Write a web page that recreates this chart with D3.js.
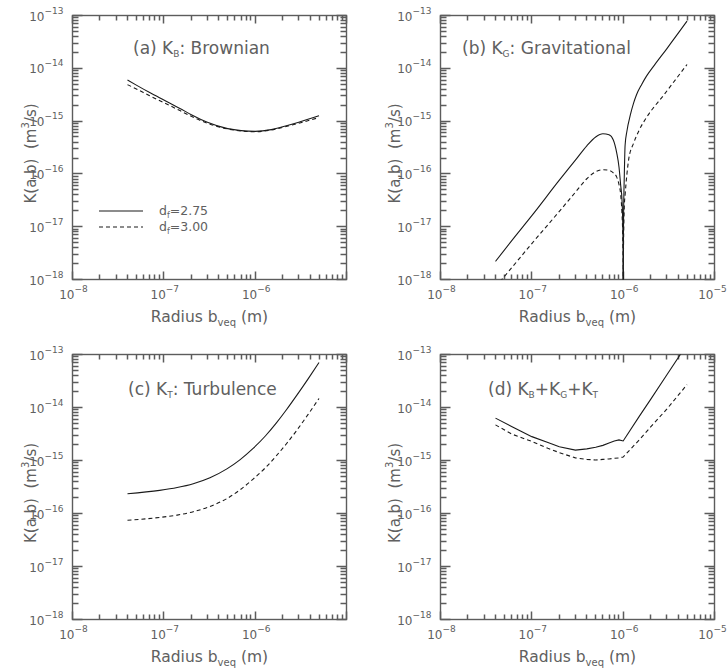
<!DOCTYPE html>
<html>
<head>
<meta charset="utf-8">
<script src="https://cdn.jsdelivr.net/npm/d3@7/dist/d3.min.js"></script>
<style>
body { margin: 0; background: #fff; }
text { font-family: "DejaVu Sans", sans-serif; fill: #606060; }
</style>
</head>
<body>
<svg id="fig" width="728" height="671"></svg>
<script>
// (a) Brownian
var brownRadius = [4e-8, 5e-8, 7e-8, 1e-7, 1.5e-7, 2e-7, 3e-7, 5e-7, 7e-7, 1e-6, 1.5e-6, 2e-6, 3e-6, 5e-6];
var brownSolid  = [6.0e-15, 4.8e-15, 3.47e-15, 2.51e-15, 1.74e-15, 1.32e-15, 9.5e-16, 7.2e-16, 6.6e-16, 6.4e-16, 6.9e-16, 7.8e-16, 9.5e-16, 1.26e-15];
var brownDashed = [4.9e-15, 4.07e-15, 3.02e-15, 2.24e-15, 1.58e-15, 1.23e-15, 9.1e-16, 7.1e-16, 6.5e-16, 6.3e-16, 6.8e-16, 7.6e-16, 9.1e-16, 1.17e-15];

// (b) Gravitational (drops to zero at b = a = 1e-6)
var gravRadiusSolid = [4e-8, 6e-8, 1e-7, 2e-7, 3e-7, 4e-7, 5e-7, 6e-7, 7e-7, 7.8e-7, 8.5e-7, 9e-7, 9.4e-7, 9.7e-7, 9.9e-7, 9.97e-7, 1e-6,
                       1.003e-6, 1.01e-6, 1.03e-6, 1.05e-6, 1.1e-6, 1.2e-6, 1.3e-6, 1.4e-6, 1.6e-6, 1.8e-6, 2.2e-6, 3e-6, 5e-6];
var gravSolid = [2.2e-18, 5.4e-18, 1.62e-17, 7.6e-17, 1.82e-16, 3.4e-16, 5.0e-16, 5.75e-16, 5.5e-16, 4.4e-16, 2.5e-16, 1.35e-16, 6.0e-17, 3.3e-17, 1.1e-17, 3.2e-18, 3e-20,
                 1.3e-18, 1.3e-17, 1.0e-16, 3.5e-16, 6.5e-16, 1.32e-15, 2.19e-15, 3.16e-15, 5.0e-15, 7.1e-15, 1.15e-14, 2.34e-14, 7.8e-14];
var gravRadiusDashed = [4e-8, 6e-8, 1e-7, 2e-7, 3e-7, 4e-7, 5e-7, 6e-7, 7e-7, 7.8e-7, 8.5e-7, 9e-7, 9.4e-7, 9.7e-7, 9.9e-7, 9.97e-7, 1e-6,
                        1.003e-6, 1.01e-6, 1.03e-6, 1.05e-6, 1.1e-6, 1.15e-6, 1.3e-6, 1.5e-6, 1.8e-6, 2.8e-6, 5e-6];
var gravDashed = [7.2e-19, 1.66e-18, 4.8e-18, 1.95e-17, 4.5e-17, 8.1e-17, 1.1e-16, 1.2e-16, 1.17e-16, 1.05e-16, 8.7e-17, 6.3e-17, 4.0e-17, 1.8e-17, 6.3e-18, 2.0e-18, 3e-20,
                  1.0e-18, 5.0e-18, 2.5e-17, 4.0e-17, 1.0e-16, 1.9e-16, 3.8e-16, 6.8e-16, 1.17e-15, 3.16e-15, 1.18e-14];

// (c) Turbulence
var turbRadius = [4e-8, 9e-8, 1.4e-7, 2.1e-7, 3.2e-7, 4.9e-7, 6.8e-7, 9.5e-7, 1.3e-6, 1.7e-6, 2.2e-6, 2.85e-6, 3.8e-6, 5e-6];
var turbSolid  = [2.36e-16, 2.73e-16, 3.09e-16, 3.65e-16, 4.73e-16, 6.95e-16, 1.03e-15, 1.69e-15, 2.93e-15, 5.07e-15, 9.06e-15, 1.69e-14, 3.47e-14, 7.06e-14];
var turbDashed = [7.46e-17, 8.43e-17, 9.33e-17, 1.08e-16, 1.36e-16, 1.91e-16, 2.78e-16, 4.46e-16, 7.36e-16, 1.22e-15, 2.07e-15, 3.7e-15, 7.41e-15, 1.48e-14];

// (d) K_B + K_G + K_T
var totalRadius = [4e-8, 6e-8, 1e-7, 1.5e-7, 2e-7, 3e-7, 4e-7, 5e-7, 6e-7, 7e-7, 8e-7, 9e-7, 1e-6, 1.5e-6, 2e-6, 3e-6, 5e-6];
var totalSolid  = [6.3e-15, 4.37e-15, 2.82e-15, 2.19e-15, 1.82e-15, 1.57e-15, 1.66e-15, 1.78e-15, 1.93e-15, 2.14e-15, 2.34e-15, 2.45e-15, 2.34e-15, 6.8e-15, 1.42e-14, 4.1e-14, 1.55e-13];
var totalDashed = [4.7e-15, 3.16e-15, 2.29e-15, 1.7e-15, 1.41e-15, 1.12e-15, 1.05e-15, 1.02e-15, 1.05e-15, 1.07e-15, 1.1e-15, 1.12e-15, 1.16e-15, 2.45e-15, 4.3e-15, 9.3e-15, 2.7e-14];

var xTickExponents = ["−8", "−7", "−6", "−5"];
var yTickExponents = ["−18", "−17", "−16", "−15", "−14", "−13"];
var legendLabels = ["2.75", "3.00"];

var panels = [
	{ left: 72.5, top: 15.5, width: 274, height: 264, yTitleX: -37, lastXLabel: false, smooth: true,
	  title: [["(a) K", 0], ["B", 1], [": Brownian", 0]], titleX: 133, titleY: 38,
	  series: [[brownRadius, brownSolid, false], [brownRadius, brownDashed, true]], legend: true },
	{ left: 440.5, top: 15.5, width: 274, height: 264, yTitleX: -41, lastXLabel: true, smooth: true,
	  title: [["(b) K", 0], ["G", 1], [": Gravitational", 0]], titleX: 462, titleY: 38,
	  series: [[gravRadiusSolid, gravSolid, false], [gravRadiusDashed, gravDashed, true]] },
	{ left: 72.5, top: 354.5, width: 274, height: 265, yTitleX: -37, lastXLabel: false, smooth: true,
	  title: [["(c) K", 0], ["T", 1], [": Turbulence", 0]], titleX: 128, titleY: 40,
	  series: [[turbRadius, turbSolid, false], [turbRadius, turbDashed, true]] },
	{ left: 440.5, top: 354.5, width: 274, height: 265, yTitleX: -41, lastXLabel: true, smooth: false,
	  title: [["(d) K", 0], ["B", 1], ["+K", 0], ["G", 1], ["+K", 0], ["T", 1]], titleX: 488, titleY: 40,
	  series: [[totalRadius, totalSolid, false], [totalRadius, totalDashed, true]] }
];

var frameColor = "#5c5c5c";
var svg = d3.select("#fig");

function isDecade(v) {
	var l = Math.log10(v);
	return Math.abs(l - Math.round(l)) < 1e-9;
}

function drawPanel(p, i) {
	var g = svg.append("g").attr("transform", "translate(" + p.left + "," + p.top + ")");
	var x = d3.scaleLog().domain([1e-8, 1e-5]).range([0, p.width]);
	var y = d3.scaleLog().domain([1e-18, 1e-13]).range([p.height, 0]);

	var xAll = x.ticks(), yAll = y.ticks();
	var xMajor = xAll.filter(isDecade);
	var yMajor = yAll.filter(isDecade);

	// inward ticks on all four sides
	var tp = d3.path();
	xAll.forEach(function(v) {
		var px = Math.round(x(v)), len = isDecade(v) ? 8 : 5;
		tp.moveTo(px, p.height); tp.lineTo(px, p.height - len);
		tp.moveTo(px, 0); tp.lineTo(px, len);
	});
	yAll.forEach(function(v) {
		var py = Math.round(y(v)), len = isDecade(v) ? 10 : 6;
		tp.moveTo(0, py); tp.lineTo(len, py);
		tp.moveTo(p.width, py); tp.lineTo(p.width - len, py);
	});
	g.append("path")
		.attr("d", tp.toString())
		.attr("fill", "none")
		.attr("stroke", frameColor)
		.attr("stroke-width", 1.5);

	g.append("rect")
		.attr("width", p.width).attr("height", p.height)
		.attr("fill", "none").attr("stroke", frameColor).attr("stroke-width", 1.4);

	// tick labels 10^n
	xMajor.forEach(function(v, k) {
		var last = k == xMajor.length - 1;
		if (last && !p.lastXLabel) return;
		var t = g.append("text")
			.attr("x", x(v) + (last ? -2 : 1)).attr("y", p.height + 19)
			.attr("text-anchor", "middle")
			.style("font-size", "12px");
		t.append("tspan").text("10");
		t.append("tspan").attr("dy", -7).style("font-size", "9px").text(xTickExponents[k]);
	});
	yMajor.forEach(function(v, k) {
		var t = g.append("text")
			.attr("x", -9).attr("y", y(v) + 5)
			.attr("text-anchor", "end")
			.style("font-size", "12px");
		t.append("tspan").text("10");
		t.append("tspan").attr("dy", -7).style("font-size", "9px").text(yTickExponents[k]);
	});

	// axis titles
	var xt = g.append("text")
		.attr("x", p.width / 2).attr("y", p.height + 42)
		.attr("text-anchor", "middle")
		.style("font-size", "15.5px");
	xt.append("tspan").text("Radius b");
	xt.append("tspan").attr("dy", 4).style("font-size", "10px").text("veq");
	xt.append("tspan").attr("dy", -4).text(" (m)");

	var yt = g.append("text")
		.attr("transform", "translate(" + p.yTitleX + "," + (p.height / 2 + 6) + ") rotate(-90)")
		.attr("text-anchor", "middle")
		.style("font-size", "15px");
	yt.append("tspan").text("K(a,b)\u00a0\u00a0(m");
	yt.append("tspan").attr("dy", -7).style("font-size", "10px").text("3");
	yt.append("tspan").attr("dy", 7).text("/s)");

	// panel title
	var tt = g.append("text")
		.attr("x", p.titleX - p.left).attr("y", p.titleY)
		.style("font-size", "17px");
	p.title.forEach(function(s, k) {
		if (s[1]) {
			tt.append("tspan").attr("dy", 3).style("font-size", "9px").text(s[0]);
		} else {
			tt.append("tspan").attr("dy", k ? -3 : 0).text(s[0]);
		}
	});

	// curves
	g.append("clipPath").attr("id", "clip" + i)
		.append("rect").attr("width", p.width).attr("height", p.height);

	var line = d3.line()
		.curve(p.smooth ? d3.curveMonotoneX : d3.curveLinear)
		.x(function(d) { return x(d[0]); })
		.y(function(d) { return y(d[1]); });

	p.series.forEach(function(s) {
		var pts = s[0].map(function(r, k) { return [r, s[1][k]]; });
		g.append("path")
			.datum(pts)
			.attr("clip-path", "url(#clip" + i + ")")
			.attr("fill", "none")
			.attr("stroke", "#1a1a1a")
			.attr("stroke-width", 1.1)
			.attr("stroke-dasharray", s[2] ? "4,3" : null)
			.attr("d", line);
	});

	if (p.legend) {
		legendLabels.forEach(function(lab, k) {
			var ly = 195.5 + 16 * k;
			g.append("line")
				.attr("x1", 99 - p.left).attr("x2", 143 - p.left)
				.attr("y1", ly).attr("y2", ly)
				.attr("stroke", "#1a1a1a").attr("stroke-width", 1.1)
				.attr("stroke-dasharray", k ? "4,3" : null);
			var t = g.append("text")
				.attr("x", 159 - p.left).attr("y", ly + 4)
				.style("font-size", "12.5px");
			t.append("tspan").text("d");
			t.append("tspan").attr("dy", 3).style("font-size", "8px").text("f");
			t.append("tspan").attr("dy", -3).text("=" + lab);
		});
	}
}

panels.forEach(drawPanel);
</script>
</body>
</html>
